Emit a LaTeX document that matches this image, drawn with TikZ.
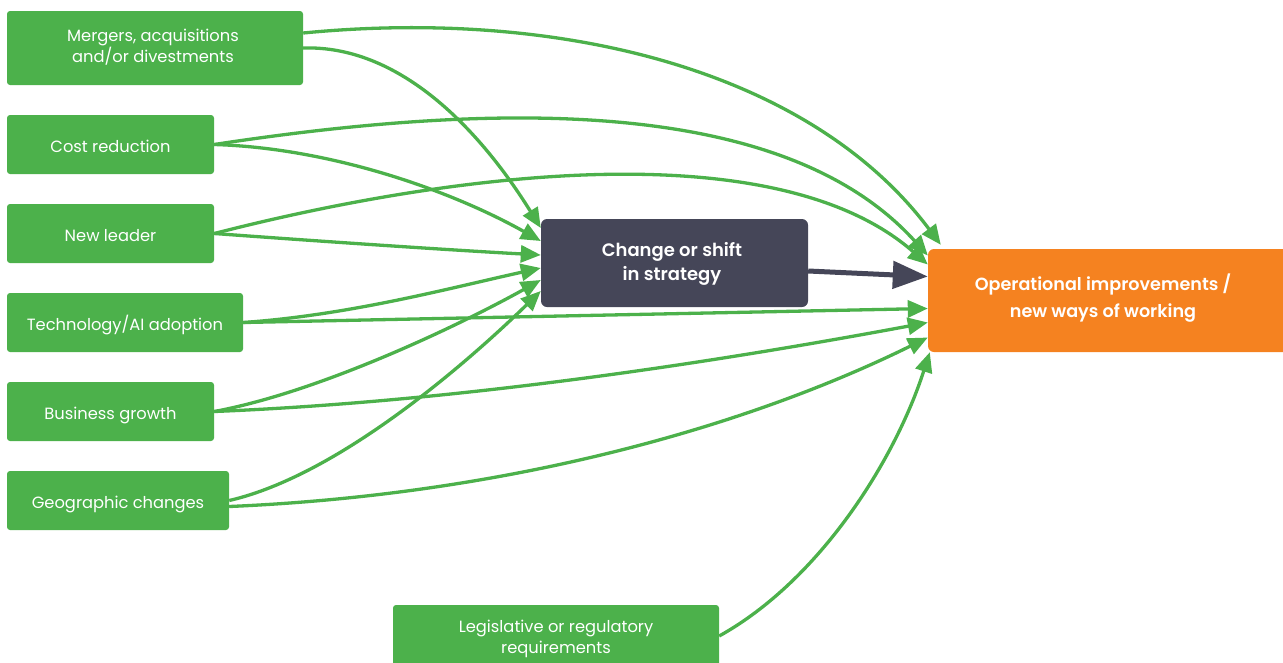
\documentclass[tikz,border=0pt]{standalone}
\usepackage{fontspec}
\setmainfont{Poppins}
\newfontfamily\semib{Poppins SemiBold}
\usetikzlibrary{arrows.meta,calc}
\definecolor{gbox}{HTML}{4CB14B}
\definecolor{dbox}{HTML}{454658}
\definecolor{obox}{HTML}{F58220}
\tikzset{
  src/.style={fill=gbox, draw=none, rounded corners=3pt, text=white, align=center, font=\fontsize{16.3}{21}\selectfont, inner sep=0pt},
  one/.style={text height=16pt, text depth=0pt},
  lbl/.style={text=white, align=center, font=\fontsize{16.3}{21}\selectfont},
  gar/.style={draw=gbox, line width=3.3pt, -{Triangle[length=20pt,width=17pt]}},
  dar/.style={draw=dbox, line width=5pt, -{Triangle[length=35pt,width=27pt]}},
}
\begin{document}
\begin{tikzpicture}[x=1pt,y=-1pt]
\useasboundingbox (0,0) rectangle (1283,662);
% source boxes
\node[src, minimum width=296pt, minimum height=74pt] (m) at (155,48) {};
\node[lbl] (mt) at (153,47.5) {Mergers, acquisitions\\and/or divestments};
\node[src, one, minimum width=207pt, minimum height=59pt] (c) at (110.5,144.5) {Cost reduction};
\node[src, one, minimum width=207pt, minimum height=59pt] (n) at (110.5,233.5) {New leader};
\node[src, one, minimum width=236pt, minimum height=59pt] (t) at (125,322.5) {Technology/AI adoption};
\node[src, one, minimum width=207pt, minimum height=59pt] (b) at (110.5,411.5) {Business growth};
\node[src, one, minimum width=222pt, minimum height=59pt] (g) at (118,500.5) {Geographic changes};
\node[src, minimum width=326pt, minimum height=62pt] (l) at (556,636) {};
\node[lbl] (lt) at (556,639) {Legislative or regulatory\\requirements};
% targets
\node[fill=dbox, rounded corners=6pt, minimum width=267pt, minimum height=88pt, inner sep=0pt] (s) at (674.5,263) {};
\node[text=white, align=center, font=\fontsize{18}{24}\selectfont\semib] (st) at (672,264) {Change or shift\\in strategy};
\node[fill=obox, rounded corners=6pt, minimum width=370pt, minimum height=103pt, inner sep=0pt] (o) at (1113,300.5) {};
\node[text=white, align=center, font=\fontsize{17.6}{27}\selectfont\semib] (ot) at (1103,298) {Operational improvements /\\new ways of working};
% arrows into strategy
\draw[gar] (m.east) .. controls (400,45) and (480,130) .. ($(s.west)+(0,-35)$);
\draw[gar] (c.east) .. controls (330,148) and (450,190) .. ($(s.west)+(0,-22)$);
\draw[gar] (n.east) .. controls (330,242) and (450,250) .. ($(s.west)+(0,-8)$);
\draw[gar] (t.east) .. controls (350,315) and (450,288) .. ($(s.west)+(0,5)$);
\draw[gar] (b.east) .. controls (320,392) and (460,325) .. ($(s.west)+(0,17)$);
\draw[gar] (g.east) .. controls (340,475) and (470,360) .. ($(s.west)+(0,28)$);
% arrows into operational
\draw[gar] ($(m.east)+(0,-15)$) .. controls (560,8) and (810,70) .. ($(o.north west)+(13,-4)$);
\draw[gar] (c.east) .. controls (480,104) and (780,92) .. ($(o.west)+(0,-45)$);
\draw[gar] (n.east) .. controls (470,168) and (780,135) .. ($(o.west)+(0,-36)$);
\draw[dar] ($(s.east)+(0,8)$) -- ($(o.west)+(0,-24)$);
\draw[gar] (t.east) -- ($(o.west)+(0,8)$);
\draw[gar] (b.east) .. controls (450,402) and (700,365) .. ($(o.west)+(0,22)$);
\draw[gar] ($(g.east)+(0,6)$) .. controls (500,495) and (740,430) .. ($(o.west)+(0,37)$);
\draw[gar] (l.east) .. controls (820,580) and (895,460) .. ($(o.south west)+(2,0)$);
\end{tikzpicture}
\end{document}
